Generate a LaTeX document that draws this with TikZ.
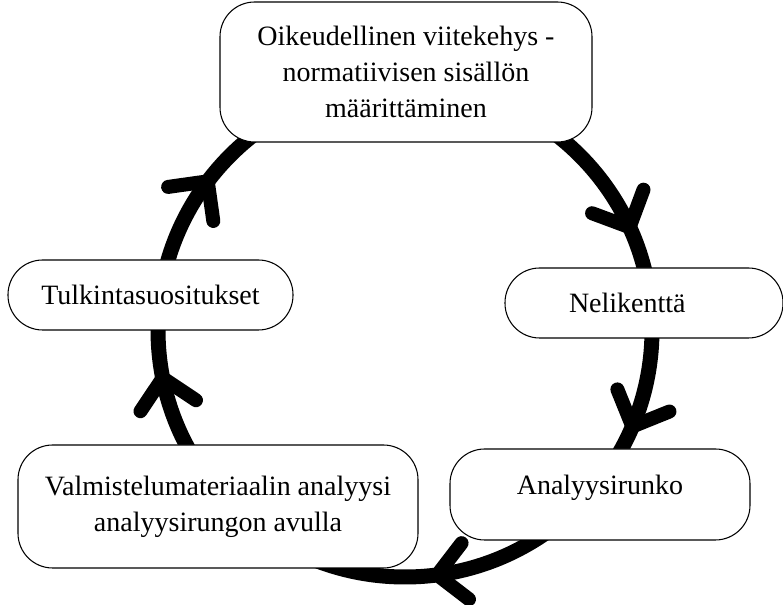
\documentclass[tikz,border=0pt]{standalone}
\usepackage{fontspec}
\setmainfont{Liberation Serif}
\usetikzlibrary{calc}
\begin{document}
\begin{tikzpicture}[x=0.75pt,y=-0.75pt,
  ring/.style={line width=11.25pt},
  chev/.style={line width=10.5pt, line cap=round, line join=round},
  box/.style={draw, line width=0.8pt, fill=white, rounded corners=26pt, align=center, font=\fontsize{21}{27}\selectfont, inner sep=0pt}]
\useasboundingbox (0,0) rectangle (783,605);
\coordinate (C) at (405,330);
\draw[ring] (C) circle [radius=247];
\foreach \t in {-24.6,23,82.5,168.8,217} {
  \draw[chev] ($(C)+(\t:247)+(\t-45:40)$) -- ($(C)+(\t:247)$) -- ($(C)+(\t:247)+(\t-135:40)$);
}
\node[box, minimum width=279pt, minimum height=105pt] (top) at (406,72) {Oikeudellinen viitekehys -\\normatiivisen sisällön\\määrittäminen};
\node[box, minimum width=208.5pt, minimum height=52.5pt] (nel) at (644,303) {Nelikenttä\hspace*{25pt}};
\node[box, minimum width=225pt, minimum height=68.25pt] (ana) at (600,494.5) {\raisebox{0pt}[0pt][0pt]{Analyysirunko}};
\node[box, minimum width=300pt, minimum height=92.25pt] (val) at (218,506.5) {Valmistelumateriaalin analyysi\\analyysirungon avulla};
\node[box, minimum width=213.75pt, minimum height=52.5pt] (tul) at (150.5,295) {Tulkintasuositukset};
\end{tikzpicture}
\end{document}
